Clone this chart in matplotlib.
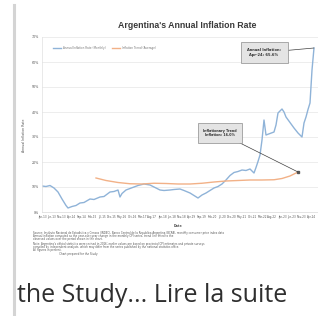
import numpy as np
import matplotlib.pyplot as plt
from matplotlib.lines import Line2D

# monthly index from Jan-13
blue_months = [0, 2, 4, 6, 8, 10, 12, 13, 15, 17, 19, 21, 24, 26, 29, 31, 34, 36, 38, 39,
               40, 42, 44, 46, 48, 51, 54, 56, 59, 61, 64, 66, 69, 71, 74, 76, 78, 80, 82, 84,
               86, 88, 90, 92, 94, 96, 98, 100, 102, 104, 105, 106, 107, 108, 109, 110, 111, 112,
               114, 116, 117, 118, 119, 120, 121, 122, 124, 126, 128, 130, 131, 132, 133, 134, 135, 136]
blue_values = [10.4, 10.2, 10.6, 9.6, 8.0, 5.2, 2.6, 1.6, 2.2, 2.6, 3.6, 3.8, 5.2, 5.0, 6.0, 6.2,
               8.0, 8.2, 8.8, 6.0, 7.4, 8.8, 9.4, 10.0, 10.6, 11.2, 10.8, 10.0, 8.8, 8.6, 8.8, 9.0,
               9.2, 8.6, 7.6, 6.6, 5.6, 6.8, 7.6, 8.6, 9.6, 10.2, 11.2, 12.8, 14.6, 15.8, 16.2, 16.8,
               16.6, 17.2, 16.4, 15.6, 17.8, 20.2, 22.8, 28.8, 36.8, 30.8, 31.4, 32.0, 34.8, 39.6,
               40.4, 41.2, 40.0, 38.0, 35.8, 33.6, 31.6, 30.0, 35.6, 38.0, 41.0, 43.6, 56.8, 65.6]

orange_months = [27, 32, 38, 44, 50, 56, 62, 68, 74, 80, 86, 92, 98, 104, 110, 116, 120, 124, 128]
orange_values = [13.6, 12.6, 11.8, 11.3, 11.2, 11.5, 11.4, 11.2, 11.2, 11.5, 12.0, 12.4, 12.6,
                 12.8, 12.8, 12.9, 13.4, 14.4, 16.0]

month_names = ['Jan', 'Feb', 'Mar', 'Apr', 'May', 'Jun', 'Jul', 'Aug', 'Sep', 'Oct', 'Nov', 'Dec']
tick_months = list(range(0, 140, 5))
tick_labels = [f"{month_names[m % 12]}-{13 + m // 12}" for m in tick_months]
y_ticks = list(range(0, 80, 10))

footnotes = [
    "Source: Instituto Nacional de Estadistica y Censos (INDEC), Banco Central de la Republica Argentina (BCRA), monthly consumer price index data",
    "Annual inflation computed as the year-over-year change in the monthly CPI series; trend line fitted to the",
    "observed values over the period shown in the chart.",
    "Note: Argentina's official statistics were revised in 2016; earlier values are based on provincial CPI estimates and private surveys",
    "compiled by independent analysts, which may differ from the series published by the national statistics office.",
    "All figures in percent.",
    "                              Chart prepared for the Study.",
]

fig = plt.figure(figsize=(3.18, 3.16), dpi=100)
fig.patch.set_facecolor('white')

# grey side bar
fig.add_artist(Line2D([13.5 / 318, 13.5 / 318], [0, 1 - 5 / 316], color='#d4d4d4', lw=2.2))

ax = fig.add_axes([42 / 318, 104 / 316, 280 / 318, 175 / 316])
ax.plot(blue_months, blue_values, color='#8fb3d8', lw=1.0, label='Annual Inflation Rate (Monthly)')
ax.plot(orange_months, orange_values, color='#f2b187', lw=1.0, label='Inflation Trend (Average)')
ax.plot(orange_months[-1], orange_values[-1], 's', color='#555555', ms=1.6)

ax.set_xlim(0, 140)
ax.set_ylim(0, 70)
ax.set_yticks(y_ticks)
ax.set_yticklabels([f"{v}%" for v in y_ticks], fontsize=2.3, color='#555555')
ax.set_xticks(tick_months)
ax.set_xticklabels(tick_labels, fontsize=2.0, color='#555555')
ax.tick_params(length=0, pad=2)
ax.grid(axis='y', color='#e6e6e6', lw=0.5)
ax.set_axisbelow(True)
for s in ['top', 'right']:
    ax.spines[s].set_visible(False)
ax.spines['left'].set_color('#e0e0e0')
ax.spines['bottom'].set_color('#d9d9d9')
ax.spines['left'].set_linewidth(0.5)
ax.spines['bottom'].set_linewidth(0.5)

ax.legend(loc='upper left', bbox_to_anchor=(0.03, 0.965), ncol=2, frameon=False,
          fontsize=2.0, handlelength=3, columnspacing=2, labelcolor='#777777')

box = dict(boxstyle='square,pad=1.6', fc='#e4e4e4', ec='#8c8c8c', lw=0.5)
ax.annotate("Inflationary Trend\nInflation: 16.0%", xy=(orange_months[-1], orange_values[-1]),
            xytext=(89, 31.6), ha='center', va='center', fontsize=2.4, color='#333333',
            fontweight='bold', bbox=box,
            arrowprops=dict(arrowstyle='-', color='#404040', lw=0.5, shrinkA=0, shrinkB=0))
ax.annotate("Annual Inflation:\nApr-24: 65.6%", xy=(blue_months[-1], blue_values[-1]),
            xytext=(111, 63.8), ha='center', va='center', fontsize=2.6, color='#333333',
            fontweight='bold', bbox=dict(boxstyle='square,pad=1.8', fc='#e4e4e4', ec='#8c8c8c', lw=0.5),
            arrowprops=dict(arrowstyle='-', color='#404040', lw=0.5, shrinkA=0, shrinkB=0))

fig.text(187 / 318, 1 - 25 / 316, "Argentina's Annual Inflation Rate", ha='center', va='center',
         fontsize=6.3, fontweight='bold', color='#3a3a3a', family='Liberation Sans')
fig.text(24 / 318, 1 - 135 / 316, "Annual Inflation Rate", rotation=90, ha='center', va='center',
         fontsize=2.3, color='#555555')
fig.text(178 / 318, 1 - 226 / 316, "Date", ha='center', va='center', fontsize=2.4,
         fontweight='bold', color='#555555')

y0 = 233
for i, line in enumerate(footnotes):
    fig.text(33 / 318, 1 - (y0 + i * 3.1 + (2 if i >= 3 else 0)) / 316, line, ha='left', va='center',
             fontsize=1.9, color='#555555')

fig.text(17 / 318, 14 / 316, "the Study... Lire la suite", ha='left', va='baseline',
         fontsize=18, color='#2f2f2f', family='Open Sans')

plt.savefig('out.png', dpi=100)
